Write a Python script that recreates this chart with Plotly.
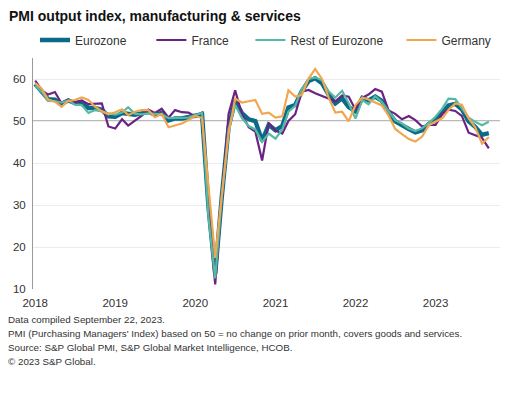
import pandas as pd
import plotly.graph_objects as go

months = pd.date_range("2018-01-01", periods=69, freq="MS")

eurozone = [
    58.8, 57.1, 55.2, 55.1, 54.1, 54.9, 54.3, 54.5, 53.1, 53.1, 52.7, 51.1,
    51.0, 51.9, 51.6, 51.5, 51.8, 52.2, 51.5, 51.9, 50.1, 50.6, 50.6, 50.9,
    51.3, 51.6, 29.7, 13.6, 31.9, 48.5, 54.9, 51.9, 50.4, 50.0, 45.3, 49.1,
    47.8, 48.8, 53.2, 53.8, 57.1, 59.5, 60.2, 59.0, 56.2, 54.2, 55.4, 53.3,
    52.3, 55.5, 54.9, 55.8, 54.8, 52.0, 49.9, 48.9, 48.1, 47.3, 47.8, 49.3,
    50.3, 52.0, 53.7, 54.1, 52.8, 49.9, 48.6, 46.7, 47.1,
]
france = [
    59.6, 57.3, 56.3, 56.9, 54.2, 55.0, 54.4, 54.9, 54.0, 54.1, 54.2, 48.7,
    48.2, 50.4, 48.9, 50.1, 51.2, 52.7, 51.9, 52.9, 50.8, 52.6, 52.1, 52.0,
    51.1, 52.0, 28.9, 11.1, 32.1, 51.7, 57.3, 51.6, 48.5, 47.5, 40.6, 49.5,
    47.7, 47.0, 50.0, 51.6, 57.0, 57.4, 56.6, 55.9, 55.3, 54.7, 56.1, 55.8,
    52.7, 55.5, 56.3, 57.6, 57.0, 52.5, 51.7, 50.4, 51.2, 50.2, 48.7, 49.1,
    49.1, 51.7, 52.7, 52.4, 51.2, 47.2, 46.6, 46.0, 43.5,
]
rest_of_eurozone = [
    58.4, 56.8, 54.8, 54.7, 54.4, 54.9, 53.9, 53.8, 51.9, 52.6, 52.3, 51.8,
    51.5, 52.0, 53.3, 51.7, 51.6, 51.8, 51.7, 51.6, 50.7, 50.7, 50.7, 50.8,
    51.4, 51.9, 27.2, 12.5, 31.6, 48.1, 53.8, 50.7, 48.8, 48.0, 45.0, 47.0,
    45.8, 48.0, 52.2, 53.6, 57.6, 60.0, 60.4, 59.7, 57.0, 55.6, 57.2, 54.2,
    50.6, 55.0, 54.0, 55.9, 54.5, 52.2, 50.2, 49.4, 48.2, 47.6, 48.3, 49.5,
    51.0, 53.0, 55.3, 55.2, 53.0, 50.8, 49.8, 49.0, 49.8,
]
germany = [
    59.0, 57.6, 55.1, 54.6, 53.4, 54.8, 55.0, 55.6, 55.0, 53.4, 52.3, 51.6,
    52.1, 52.8, 51.4, 52.2, 52.6, 52.6, 50.9, 51.7, 48.5, 48.9, 49.4, 50.2,
    51.2, 50.7, 35.0, 17.4, 32.3, 47.0, 55.3, 54.4, 54.7, 55.0, 51.7, 52.0,
    50.8, 51.1, 57.3, 55.8, 56.2, 60.1, 62.4, 60.0, 55.5, 52.0, 52.2, 49.9,
    53.8, 55.6, 55.1, 54.3, 53.7, 51.3, 48.1, 46.9, 45.7, 45.1, 46.3, 49.0,
    49.9, 50.7, 52.6, 54.2, 53.9, 50.6, 48.5, 44.6, 46.2,
]

y_ticks = [10, 20, 30, 40, 50, 60]
x_tick_labels = ["2018", "2019", "2020", "2021", "2022", "2023"]
x_tick_vals = [f"{y}-01-01" for y in x_tick_labels]

footer = [
    "Data compiled September 22, 2023.",
    "PMI (Purchasing Managers' Index) based on 50 = no change on prior month, covers goods and services.",
    "Source: S&P Global PMI, S&P Global Market Intelligence, HCOB.",
    "\u00a9 2023 S&P Global.",
]

NB = "\u00a0"
series = [
    ("Eurozone", eurozone, "#0b6a87", 4.4, 6),
    ("France", france, "#6b2383", 2.2, 5),
    ("Rest of Eurozone", rest_of_eurozone, "#56b9a3", 2.2, 4),
    ("Germany", germany, "#f1a74f", 2.2, 0),
]

fig = go.Figure()
for name, vals, color, w, pad in series:
    fig.add_trace(go.Scatter(
        x=months, y=vals, mode="lines", name=name + NB * pad,
        line=dict(color=color, width=w),
    ))

# page body has an 8px margin; figure is sized/offset to compensate
OFF = 8
W, H = 526 - OFF, 398 - OFF
L, T = 33 - OFF, 58 - OFF
pw, ph = 467, 231
R, B = W - L - pw, H - T - ph

fig.add_hline(y=50, line=dict(color="#a3a3a3", width=1.5), layer="below")

fig.update_layout(
    width=W, height=H,
    margin=dict(l=L, r=R, t=T, b=B, autoexpand=False),
    paper_bgcolor="white", plot_bgcolor="white",
    font=dict(family="Liberation Sans, Arial, sans-serif", size=12, color="#333333"),
    title=dict(
        text="<b>PMI output index, manufacturing & services</b>",
        xref="container", x=1 / W, xanchor="left",
        yref="container", y=1 - 8 / H, yanchor="middle",
        font=dict(size=14, color="#111111"),
    ),
    showlegend=True,
    legend=dict(
        orientation="h", xref="container", x=27 / W, xanchor="left",
        yref="container", y=1 - 32 / H, yanchor="middle",
        font=dict(size=12, color="#333333"), bgcolor="rgba(0,0,0,0)",
        itemwidth=30, traceorder="normal",
    ),
    xaxis=dict(
        range=["2017-12-22", "2023-10-22"],
        tickvals=x_tick_vals, ticktext=x_tick_labels,
        showgrid=False, showline=False, zeroline=False, ticks="",
        ticklabelstandoff=5,
        tickfont=dict(size=11.5, color="#333333"),
    ),
    yaxis=dict(
        range=[10, 65], tickvals=y_ticks,
        showgrid=True, gridcolor="#ececec", gridwidth=1,
        showline=True, linecolor="#9a9a9a", linewidth=1,
        zeroline=False, ticks="", ticklabelstandoff=4,
        tickfont=dict(size=11.5, color="#333333"),
    ),
)

for i, line in enumerate(footer):
    target = 320 + 14.3 * i - OFF - 1
    fig.add_annotation(
        text=line, xref="paper", yref="paper",
        x=(-2 - L) / pw, xanchor="left",
        y=-(target - (T + ph)) / ph, yanchor="middle",
        showarrow=False, font=dict(size=9.8, color="#333333"),
    )

fig.write_html("out.html")
